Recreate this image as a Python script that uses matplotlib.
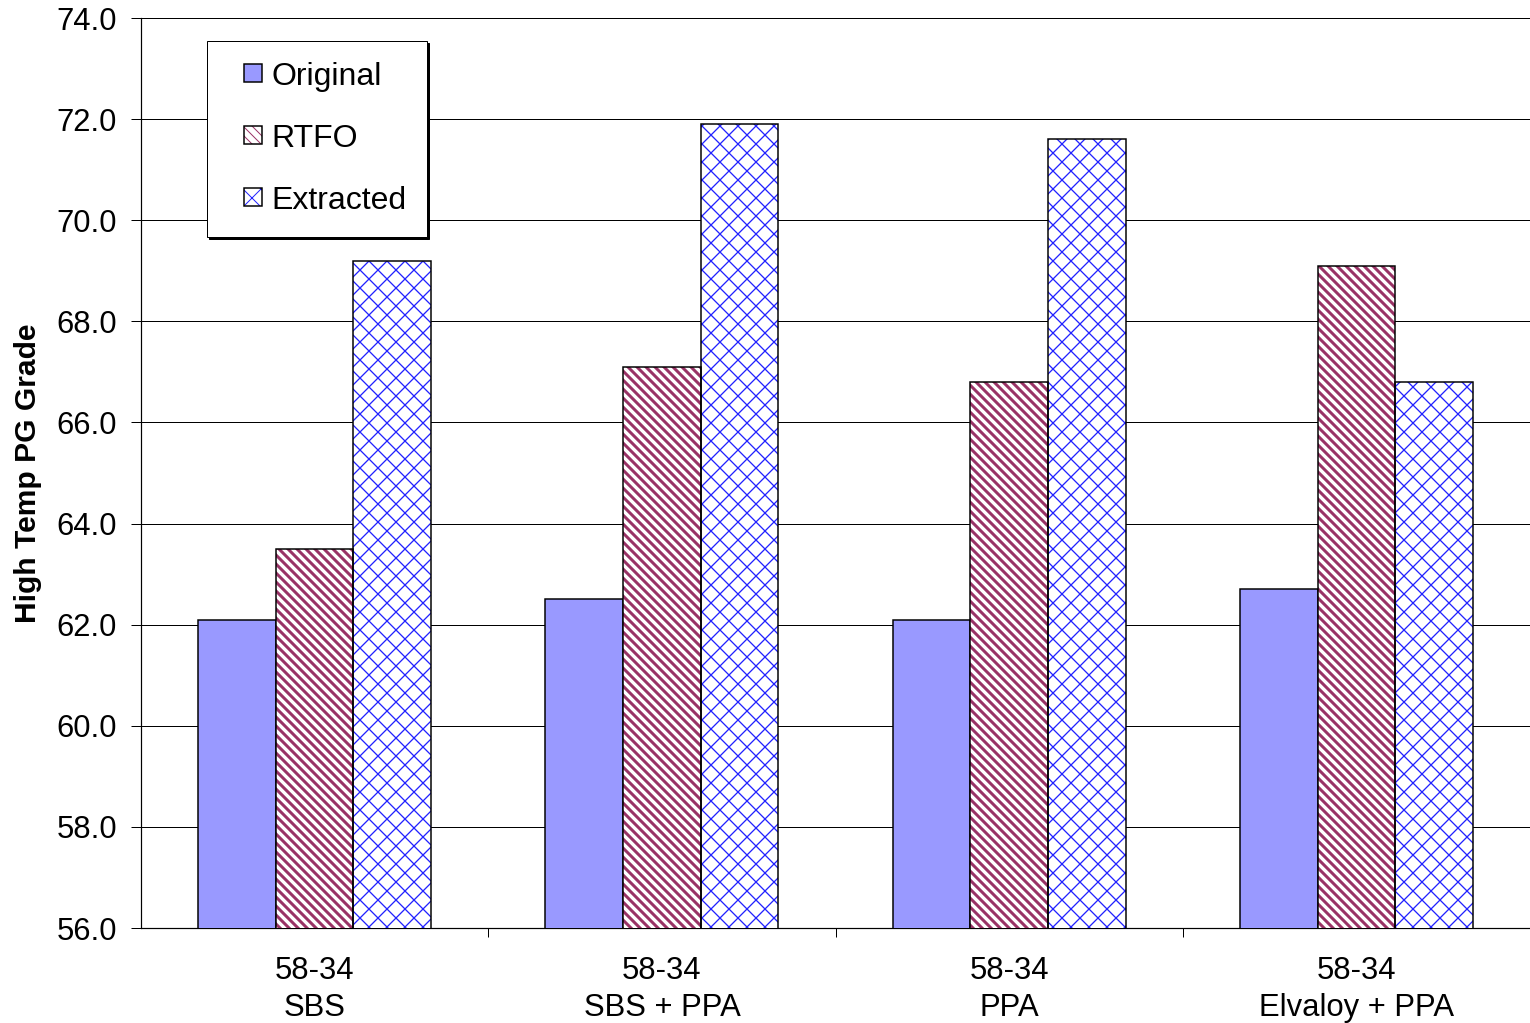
import numpy as np
import matplotlib
matplotlib.use("Agg")
import matplotlib.pyplot as plt
from matplotlib.patches import Patch, Rectangle
from matplotlib.legend_handler import HandlerBase
from matplotlib.backend_bases import GraphicsContextBase

# data
categories = ["58-34\nSBS", "58-34\nSBS + PPA", "58-34\nPPA", "58-34\nElvaloy + PPA"]
original = [62.1, 62.5, 62.1, 62.7]
rtfo = [63.5, 67.1, 66.8, 69.1]
extracted = [69.2, 71.9, 71.6, 66.8]
series_names = ["Original", "RTFO", "Extracted"]

# finer hatching than the matplotlib default
_orig_hatch = GraphicsContextBase.get_hatch_path
def _dense_hatch(self, density=6.0):
    return _orig_hatch(self, density=8.0)
GraphicsContextBase.get_hatch_path = _dense_hatch

plt.rcParams['font.family'] = ['Liberation Sans', 'DejaVu Sans']

C_ORIG = '#9999FF'
C_RTFO = '#993366'
C_EXTR = '#2222FF'
H_RTFO = '\\\\'
H_EXTR = 'x'

def set_hlw(p, lw):
    if hasattr(p, 'set_hatch_linewidth'):
        p.set_hatch_linewidth(lw)


class SquareHandler(HandlerBase):
    # small squares sitting at the right end of the handle box, layers stacked
    def create_artists(self, legend, orig_handle, xdescent, ydescent, width, height,
                       fontsize, trans):
        s = 18
        x0 = -xdescent + width - s
        y0 = -ydescent + (height - s) / 2
        out = []
        for p in orig_handle:
            r = Rectangle((x0, y0), s, s)
            r.update_from(p)
            r.set_transform(trans)
            out.append(r)
        return out


DPI = 72
fig = plt.figure(figsize=(1530 / DPI, 1023 / DPI), dpi=DPI)
ax = fig.add_axes([141 / 1530, 1 - 928 / 1023, 1 - 141 / 1530, (928 - 18) / 1023])

x = np.arange(len(categories)) + 0.5
w = 0.2237

ax.bar(x - w, original, w, color=C_ORIG, edgecolor='black', linewidth=1.5, zorder=3)
b2 = ax.bar(x, rtfo, w, color='white', edgecolor=C_RTFO, linewidth=0, hatch=H_RTFO, zorder=3)
b3 = ax.bar(x + w, extracted, w, color='white', edgecolor=C_EXTR, linewidth=0, hatch=H_EXTR, zorder=3)
for p in b2:
    set_hlw(p, 3.0)
for p in b3:
    set_hlw(p, 1.3)
# black outlines over the hatched bars
ax.bar(x, rtfo, w, fill=False, edgecolor='black', linewidth=1.5, zorder=4)
ax.bar(x + w, extracted, w, fill=False, edgecolor='black', linewidth=1.5, zorder=4)

ax.set_ylim(56, 74)
ax.set_xlim(0, 4)
yt = np.arange(56, 74.1, 2)
ax.set_yticks(yt)
ax.set_yticklabels([f"{v:.1f}" for v in yt])
ax.yaxis.grid(True, color='black', linewidth=1)
ax.set_axisbelow(True)

ax.set_xticks(x)
ax.set_xticklabels(categories, fontsize=31, linespacing=1.3)
ax.set_xticks([1, 2, 3], minor=True)
ax.tick_params(axis='x', which='major', length=0, pad=28)
ax.tick_params(axis='x', which='minor', length=9, width=1)
ax.tick_params(axis='y', labelsize=31, length=10, width=1, pad=14)

for s in ['top', 'right']:
    ax.spines[s].set_visible(False)
for s in ['left', 'bottom']:
    ax.spines[s].set_linewidth(1.2)

ax.set_ylabel("High Temp PG Grade", fontsize=30, fontweight='bold', labelpad=14)

# legend proxies: hatch in series colour, black outline on top
h1 = Patch(facecolor=C_ORIG, edgecolor='black', linewidth=1.5)
h2a = Patch(facecolor='white', edgecolor=C_RTFO, linewidth=0, hatch=H_RTFO)
h3a = Patch(facecolor='white', edgecolor=C_EXTR, linewidth=0, hatch=H_EXTR)
set_hlw(h2a, 3.0)
set_hlw(h3a, 1.3)
h2b = Patch(fill=False, edgecolor='black', linewidth=1.5)
h3b = Patch(fill=False, edgecolor='black', linewidth=1.5)

leg = fig.legend(handles=[(h1,), (h2a, h2b), (h3a, h3b)], labels=series_names,
                 handler_map={tuple: SquareHandler()},
                 loc='upper left', bbox_to_anchor=(207 / 1530, 1 - 41 / 1023), borderaxespad=0,
                 fontsize=32, frameon=True, fancybox=False,
                 shadow={'color': 'black', 'alpha': 1},
                 edgecolor='black', handlelength=1.06, handleheight=0.56,
                 handletextpad=0.3, labelspacing=1.0, borderpad=0.65)
leg.get_frame().set_linewidth(1)

fig.savefig("out.png", dpi=DPI)
